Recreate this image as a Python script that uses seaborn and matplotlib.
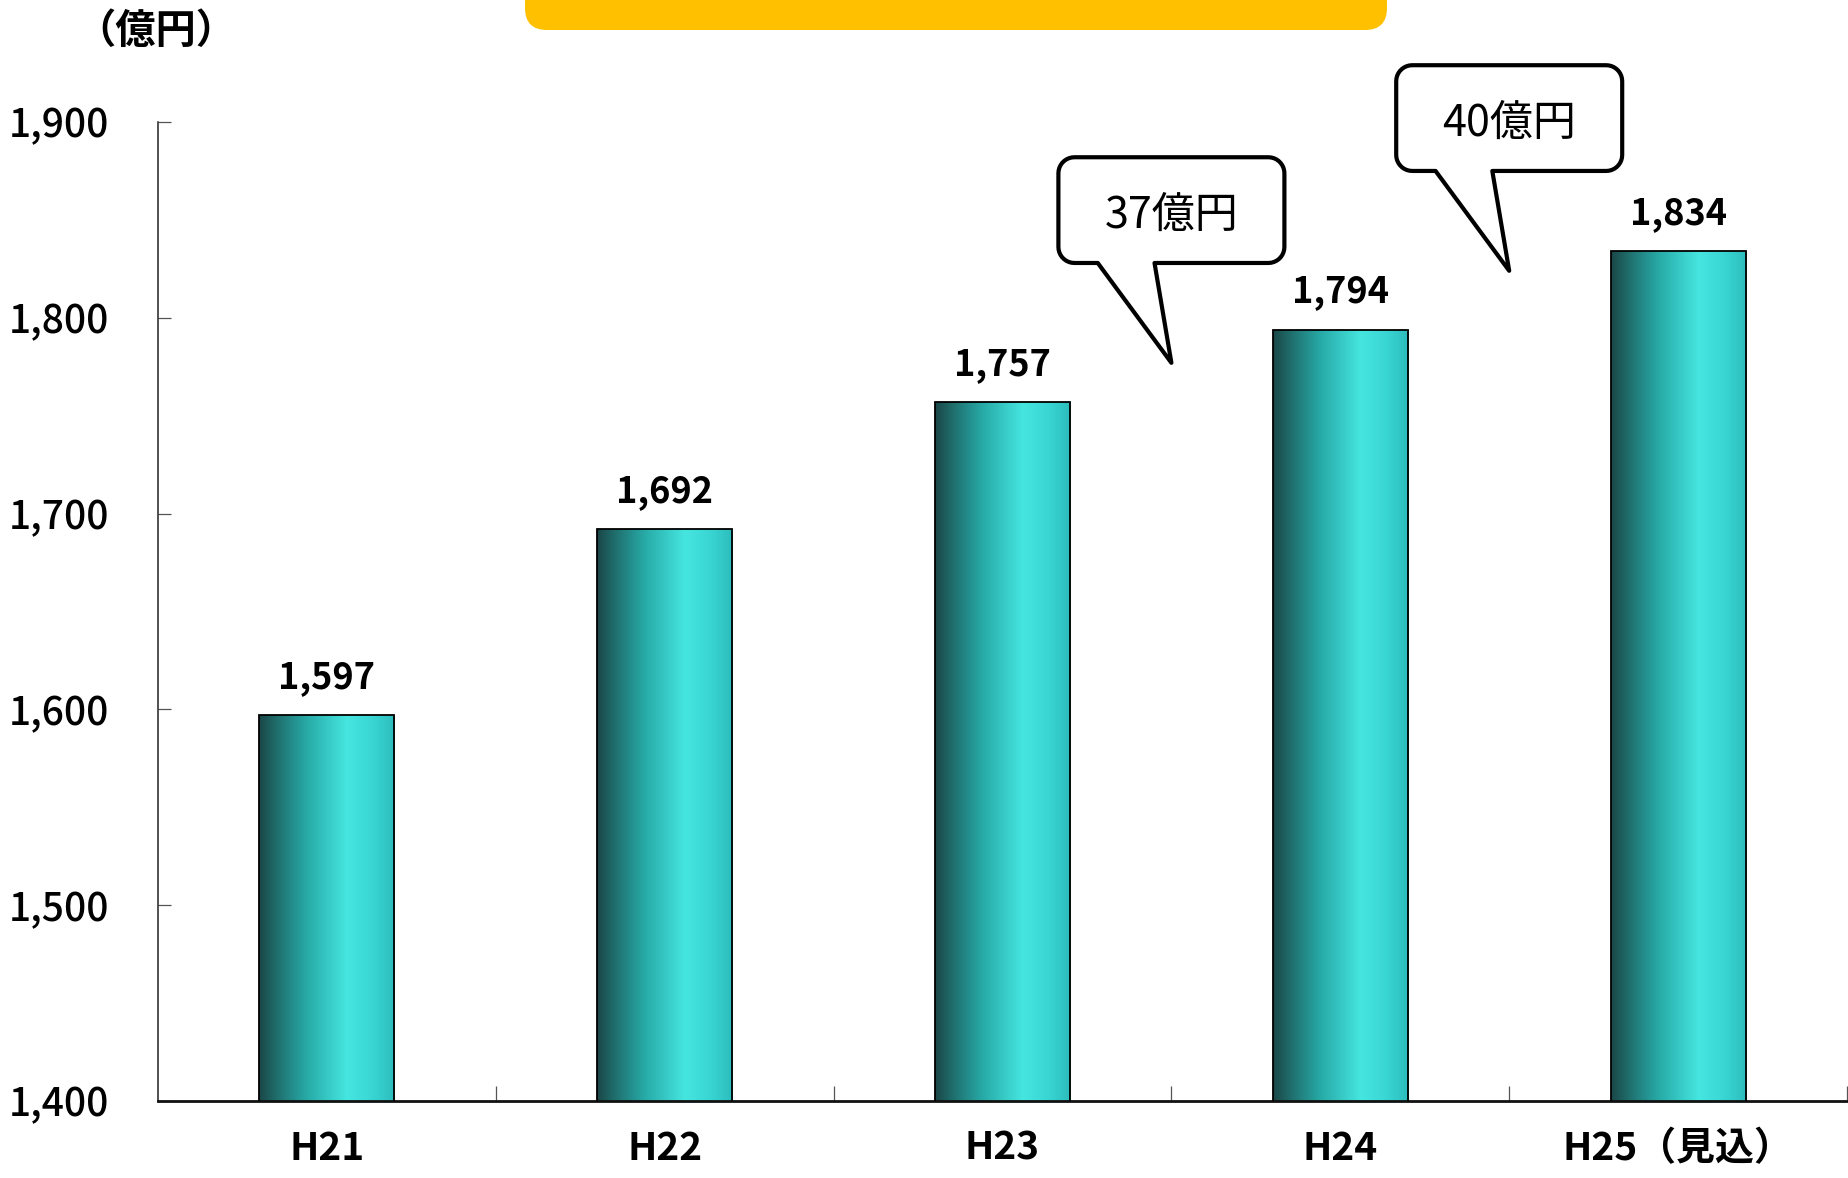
import numpy as np
import matplotlib
matplotlib.use("Agg")
import matplotlib.pyplot as plt
from matplotlib.patches import Polygon, FancyBboxPatch
from matplotlib.colors import LinearSegmentedColormap
import seaborn as sns

# ---- data ----
categories = ["H21", "H22", "H23", "H24", "H25（見込）"]
values = [1597, 1692, 1757, 1794, 1834]
y_ticks = [1400, 1500, 1600, 1700, 1800, 1900]
unit_label = "（億円）"
callout_texts = ["37億円", "40億円"]
callout_pos = [2.5, 3.5]          # between categories
callout_box_bottom = [1828, 1875]
callout_box_top = [1882, 1929]
callout_tip_y = [1777, 1824]

sns.set_theme(style="white")
plt.rcParams["font.family"] = ["Noto Sans CJK JP", "DejaVu Sans"]

W, H, DPI = 1848, 1178, 100
fig = plt.figure(figsize=(W / DPI, H / DPI), dpi=DPI)
ax = fig.add_axes([158 / W, 1 - 1101 / H, (1847 - 158) / W, (1101 - 122) / H])

sns.barplot(x=categories, y=values, width=0.40, color="#30c8c8",
            edgecolor="black", linewidth=1.3, ax=ax)

ax.set_xlim(-0.5, len(categories) - 0.5)
ax.set_ylim(y_ticks[0], y_ticks[-1])

# gradient fill for bars
cmap = LinearSegmentedColormap.from_list(
    "cyl",
    [(0.0, "#1b4646"), (0.12, "#1f6b6a"), (0.35, "#27aaa7"),
     (0.65, "#46e6e0"), (0.85, "#38d4d2"), (1.0, "#2cbcbb")])
grad = np.linspace(0, 1, 256).reshape(1, -1)
for p in list(ax.patches):
    x0 = p.get_x()
    x1 = x0 + p.get_width()
    top = p.get_y() + p.get_height()
    im = ax.imshow(grad, cmap=cmap, aspect="auto",
                   extent=[x0, x1, y_ticks[0], top], zorder=2,
                   interpolation="bicubic")
    im.set_clip_path(p)
    p.set_facecolor("none")
    p.set_zorder(3)

ax.set_xlim(-0.5, len(categories) - 0.5)
ax.set_ylim(y_ticks[0], y_ticks[-1])
ax.set_aspect("auto")

# value labels
for i, v in enumerate(values):
    ax.annotate(f"{v:,}", xy=(i, v), xytext=(0, 14), textcoords="offset points",
                ha="center", va="bottom", fontsize=26, fontweight="bold",
                color="black", zorder=6)

# axes styling
for s in ["top", "right"]:
    ax.spines[s].set_visible(False)
ax.spines["left"].set_color("#222222")
ax.spines["left"].set_linewidth(1.1)
ax.spines["bottom"].set_color("#111111")
ax.spines["bottom"].set_linewidth(2.0)

ax.set_yticks(y_ticks)
ax.set_yticklabels([f"{t:,}" for t in y_ticks])
ax.tick_params(axis="y", direction="in", length=9.5, width=0.9, color="#555555",
               pad=35, labelsize=28, labelcolor="black", left=True)
for lbl in ax.get_yticklabels():
    lbl.set_fontweight("medium")
ax.set_xticks(range(len(categories)))
ax.set_xticklabels(categories, fontweight="bold")
ax.tick_params(axis="x", which="major", length=0, pad=20, labelsize=28,
               labelcolor="black")
ax.set_xticks(np.arange(0.5, len(categories), 1.0), minor=True)
ax.tick_params(axis="x", which="minor", direction="in", length=11, width=0.9,
               color="#555555", bottom=True)
ax.set_xlabel("")
ax.set_ylabel("")
ax.grid(False)

# callouts
fig.canvas.draw()
px_x = ax.bbox.width / (ax.get_xlim()[1] - ax.get_xlim()[0])
px_y = ax.bbox.height / (ax.get_ylim()[1] - ax.get_ylim()[0])
box_w = 226 / px_x
r = 16
rx, ry = r / px_x, r / px_y


def arc(cx, cy, a0, a1, n=10):
    t = np.radians(np.linspace(a0, a1, n))
    return [(cx + rx * np.cos(a), cy + ry * np.sin(a)) for a in t]


for cx, yb, yt, ty, txt in zip(callout_pos, callout_box_bottom, callout_box_top,
                                callout_tip_y, callout_texts):
    x0, x1 = cx - box_w / 2, cx + box_w / 2
    bl, br = cx - 0.218, cx - 0.050
    pts = []
    pts += arc(x1 - rx, yt - ry, 90, 0)
    pts += arc(x1 - rx, yb + ry, 0, -90)
    pts += [(br, yb), (cx, ty), (bl, yb)]
    pts += arc(x0 + rx, yb + ry, -90, -180)
    pts += arc(x0 + rx, yt - ry, 180, 90)
    poly = Polygon(pts, closed=True, facecolor="white", edgecolor="black",
                   linewidth=3.0, joinstyle="round", clip_on=False, zorder=7)
    ax.add_patch(poly)
    ax.text(cx, (yb + yt) / 2 - 3, txt, ha="center", va="center", fontsize=31,
            color="black", zorder=8, clip_on=False)

# yellow banner at top
banner = FancyBboxPatch((525 / DPI, (H - 30) / DPI), (1387 - 525) / DPI, 1.0,
                        boxstyle="round,pad=0,rounding_size=0.22",
                        transform=fig.dpi_scale_trans, facecolor="#FFC000",
                        edgecolor="none", zorder=1)
fig.patches.append(banner)

# unit label
fig.text(156 / W, 1 - 31 / H, unit_label, ha="center", va="center",
         fontsize=29, fontweight="bold", color="black")

fig.savefig("out.png", dpi=DPI, facecolor="white")
